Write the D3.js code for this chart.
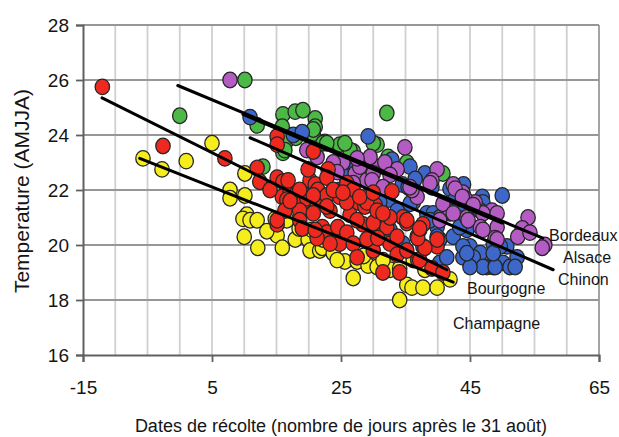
<!DOCTYPE html>
<html>
<head>
<meta charset="utf-8">
<script src="https://cdn.jsdelivr.net/npm/d3@7/dist/d3.min.js"></script>
<style>
  body { margin: 0; background: #fff; }
  text { font-family: "Liberation Sans", Arial, sans-serif; fill: #151515; }
</style>
</head>
<body>
<div id="chart"></div>
<script>
// harvest date (days after 31 Aug), AMJJA temperature
const champagne = [
  [-5.7,23.15],[-2.75,22.75],[1.0,23.05],[5.0,23.7],[10.1,22.6],[7.8,22.0],[10.1,21.8],[7.8,21.7],
  [10.4,21.1],[9.8,20.95],[10.9,20.9],[10.0,20.3],[12.1,19.9],[15.1,20.35],[15.9,19.9],[17.9,20.2],
  [19.9,20.2],[20.2,19.8],[21.7,19.8],[14.8,20.95],[16.6,20.9],[12.0,20.9],[22.1,19.9],[22.2,20.2],
  [23.8,19.7],[25.6,19.4],[24.4,19.45],[26.9,18.8],[27.5,19.4],[29.2,19.25],[30.6,19.2],[33.1,19.2],
  [34.1,18.0],[35.2,18.55],[36.0,18.45],[37.7,18.45],[39.9,18.45],[41.9,18.75],[32.6,19.1],[39.1,19.15],
  [36.2,19.45],[34.1,19.15],[18.5,20.6],[20.5,20.55],[13.5,20.5],[28.5,19.6],[31.5,19.45],[38.0,19.1]
];
const bourgogne = [
  [-12.0,25.75],[-2.6,23.6],[7.0,23.15],[12.0,22.8],[12.4,22.3],[15.1,23.95],[15.1,23.65],[15.1,22.45],
  [16.0,22.3],[15.9,21.75],[17.1,22.0],[18.2,21.9],[19.1,21.55],[20.2,22.35],[21.0,22.2],[20.7,23.4],
  [19.9,22.75],[21.4,22.0],[23.0,22.75],[19.7,21.7],[21.3,21.55],[22.8,21.8],[24.8,21.75],[25.9,22.25],
  [26.9,22.0],[27.5,21.55],[23.3,21.25],[18.6,21.25],[16.6,21.65],[14.0,22.0],[15.1,20.75],[16.3,21.25],
  [18.6,20.9],[20.7,21.15],[19.0,20.6],[15.1,20.9],[22.1,20.65],[22.8,20.45],[24.5,20.65],[24.8,20.05],
  [25.9,20.45],[26.9,20.05],[27.5,19.55],[28.4,20.75],[30.0,20.45],[28.7,21.4],[30.3,21.45],[32.1,20.65],
  [32.6,20.05],[33.7,19.65],[35.2,19.8],[34.6,21.0],[36.8,20.3],[36.9,19.45],[39.1,19.15],[40.8,19.0],
  [31.5,19.0],[34.1,19.0],[39.9,19.95],[30.0,19.8],[23.3,20.05],[21.3,20.25],[17.1,21.6],[26.4,21.1],
  [22.8,21.4],[21.0,20.55],[29.0,20.2],[30.7,20.25],[33.7,20.3],[37.2,19.45],[38.0,19.9],[39.9,20.2],
  [35.2,20.8],[32.6,21.0],[27.5,20.9],[30.0,20.8],[36.9,20.25],[37.7,20.75],[16.8,22.35],[18.6,22.0],
  [20.7,21.8],[22.8,22.45],[23.8,22.0],[25.9,21.55],[29.0,21.55],[30.6,21.25],[25.3,21.9],[27.9,21.75],
  [30.0,21.9],[32.9,21.95],[31.5,21.15],[35.2,20.9],[37.2,20.6]
];
const alsace = [
  [10.1,26.0],[0.0,24.7],[12.0,24.35],[16.0,24.75],[17.9,24.85],[15.9,24.3],[16.0,23.35],[12.9,22.85],
  [21.0,24.6],[21.0,24.3],[20.7,24.05],[16.6,23.8],[22.5,23.75],[24.8,23.65],[26.9,23.4],[19.1,24.9],
  [22.2,23.7],[26.4,23.45],[22.8,23.7],[32.1,24.8],[30.6,23.65],[32.3,23.2],[35.2,23.0],[40.8,22.6],
  [30.0,23.7],[25.6,23.7],[16.3,23.45],[20.7,24.2],[18.0,23.9]
];
const chinon = [
  [10.9,24.65],[17.6,24.0],[19.9,21.8],[29.2,23.95],[19.0,24.1],[32.9,23.1],[35.7,22.85],[38.0,22.6],
  [46.9,21.75],[50.0,21.8],[28.3,22.45],[24.8,22.0],[29.5,22.2],[34.5,22.2],[32.3,21.65],[36.2,21.55],
  [34.5,21.25],[31.4,21.0],[39.1,22.1],[35.4,22.1],[41.9,22.05],[47.0,21.55],[46.6,21.25],[43.9,21.5],
  [41.9,21.15],[38.3,21.15],[35.7,21.5],[33.7,21.25],[37.2,20.55],[39.9,20.65],[40.3,20.2],[42.4,20.3],
  [44.5,20.55],[45.0,19.95],[46.6,19.7],[48.6,20.05],[50.7,19.95],[50.1,19.35],[47.6,19.2],[43.9,19.55],
  [40.3,19.35],[37.7,19.95],[34.6,20.05],[32.6,20.55],[31.0,21.55],[43.4,20.65],[43.9,19.95],[45.5,19.55],
  [48.6,19.2],[51.2,19.2],[52.3,19.55],[49.7,19.95],[39.9,20.3],[39.3,21.15],[41.4,19.55],[47.0,19.2],
  [45.0,19.2],[48.9,19.2],[52.0,19.2],[44.5,19.7],[48.6,19.7],[40.3,21.0],[38.8,20.9],[26.7,22.95],
  [25.6,22.55],[27.2,22.75],[42.5,21.6],[36.5,22.4],[44.0,22.2]
];
const bordeaux = [
  [7.8,26.0],[19.7,23.45],[34.9,23.55],[24.4,23.0],[27.2,22.6],[29.0,22.35],[31.0,22.85],[33.7,22.75],
  [39.9,22.75],[39.1,22.35],[42.4,22.2],[43.9,21.9],[45.8,21.55],[48.4,21.25],[54.0,21.0],[21.3,23.2],
  [29.5,23.2],[30.0,22.6],[38.8,22.25],[42.7,22.05],[44.2,21.7],[36.8,21.75],[41.9,21.2],[44.5,21.0],
  [47.0,21.15],[49.2,21.15],[49.2,20.65],[46.6,20.65],[48.9,20.25],[53.1,20.6],[52.4,20.3],[56.6,20.0],
  [27.9,22.85],[26.9,22.25],[25.3,23.0],[31.8,23.0],[40.3,20.9],[43.8,21.75],[45.5,21.45],[44.7,20.9],
  [47.0,20.55],[49.2,20.2],[56.2,19.9],[36.0,22.0],[40.8,21.5],[42.4,21.15],[54.3,20.45],[23.8,23.0],
  [24.4,22.65],[27.5,23.15],[29.8,22.35],[32.6,22.55],[35.7,22.1],[31.5,22.1]
];

// regression lines (start, end)
const fitBordeaux = [[-0.3,25.8],[56.3,20.25]];
const fitAlsace = [[9.8,24.75],[50.0,20.8]];
const fitChinon = [[10.9,23.9],[57.9,19.1]];
const fitBourgogne = [[-12.05,25.35],[41.4,19.1]];
const fitChampagne = [[-6.2,23.15],[42.4,18.65]];

const xTicks = [-15, 5, 25, 45, 65];
const yTicks = [16, 18, 20, 22, 24, 26, 28];
const xLabel = "Dates de récolte (nombre de jours après le 31 août)";
const yLabel = "Temperature (AMJJA)";

const W = 619, H = 437;
const MARGIN = { TOP: 25, RIGHT: 20, BOTTOM: 82, LEFT: 83 };

const svg = d3.select("#chart").append("svg")
  .attr("width", W).attr("height", H);

const x = d3.scaleLinear().domain([-15, 65]).range([MARGIN.LEFT, W - MARGIN.RIGHT]);
const y = d3.scaleLinear().domain([16, 28]).range([H - MARGIN.BOTTOM, MARGIN.TOP]);

// GRID
svg.append("g").selectAll("line")
  .data(d3.range(-10, 66, 5))
  .join("line")
  .attr("x1", d => x(d)).attr("x2", d => x(d))
  .attr("y1", y(16)).attr("y2", y(28))
  .attr("stroke", d => d === 65 ? "#9a9a9a" : "#d0d0d0")
  .attr("stroke-width", 1.8);

svg.append("g").selectAll("line")
  .data(yTicks.slice(1))
  .join("line")
  .attr("x1", x(-15)).attr("x2", x(65))
  .attr("y1", d => y(d)).attr("y2", d => y(d))
  .attr("stroke", "#979797")
  .attr("stroke-width", 1.8);

// AXES
const xAxis = svg.append("g")
  .attr("transform", `translate(0,${y(16)})`)
  .call(d3.axisBottom(x).tickValues(xTicks).tickSize(7).tickPadding(19).tickFormat(d3.format("d")));
const yAxis = svg.append("g")
  .attr("transform", `translate(${x(-15)},0)`)
  .call(d3.axisLeft(y).tickValues(yTicks).tickSize(7).tickPadding(7).tickFormat(d3.format("d")));

[xAxis, yAxis].forEach(g => {
  g.select(".domain").attr("stroke", "#606060").attr("stroke-width", 2);
  g.selectAll(".tick line").attr("stroke", "#606060").attr("stroke-width", 1.8);
  g.selectAll(".tick text")
    .attr("font-size", 19)
    .attr("font-family", "Liberation Sans, Arial, sans-serif")
    .attr("fill", "#151515");
});
xAxis.selectAll(".tick text").text(d => d < 0 ? "-" + Math.abs(d) : d);

// POINTS
const series = [
  { data: alsace, color: "#4cb845" },
  { data: chinon, color: "#3d67c8" },
  { data: bordeaux, color: "#b45cc4" },
  { data: champagne, color: "#f6ee1c" },
  { data: bourgogne, color: "#ee2a20" }
];

series.forEach(s => {
  svg.append("g").selectAll("ellipse")
    .data(s.data)
    .join("ellipse")
    .attr("cx", d => x(d[0]))
    .attr("cy", d => y(d[1]))
    .attr("rx", 7.2)
    .attr("ry", 7.8)
    .attr("fill", s.color)
    .attr("stroke", "#262626")
    .attr("stroke-width", 1.3);
});

// REGRESSION LINES
const fits = [fitBordeaux, fitAlsace, fitChinon, fitBourgogne, fitChampagne];
svg.append("g").selectAll("line")
  .data(fits)
  .join("line")
  .attr("x1", d => x(d[0][0])).attr("y1", d => y(d[0][1]))
  .attr("x2", d => x(d[1][0])).attr("y2", d => y(d[1][1]))
  .attr("stroke", "#000")
  .attr("stroke-width", 3)
  .attr("stroke-linecap", "round");

// REGION LABELS
const regionLabels = [
  { name: "Bordeaux", px: 549, py: 241 },
  { name: "Alsace", px: 563, py: 263 },
  { name: "Chinon", px: 558, py: 285 },
  { name: "Bourgogne", px: 467, py: 294 },
  { name: "Champagne", px: 453, py: 329 }
];
svg.append("g").selectAll("text")
  .data(regionLabels)
  .join("text")
  .attr("x", d => d.px)
  .attr("y", d => d.py)
  .attr("font-size", 16)
  .text(d => d.name);

// AXIS TITLES
svg.append("text")
  .attr("x", (x(-15) + x(65)) / 2)
  .attr("y", 432)
  .attr("text-anchor", "middle")
  .attr("font-size", 18)
  .text(xLabel);

svg.append("text")
  .attr("transform", `translate(29,${191}) rotate(-90)`)
  .attr("text-anchor", "middle")
  .attr("font-size", 21)
  .text(yLabel);
</script>
</body>
</html>
